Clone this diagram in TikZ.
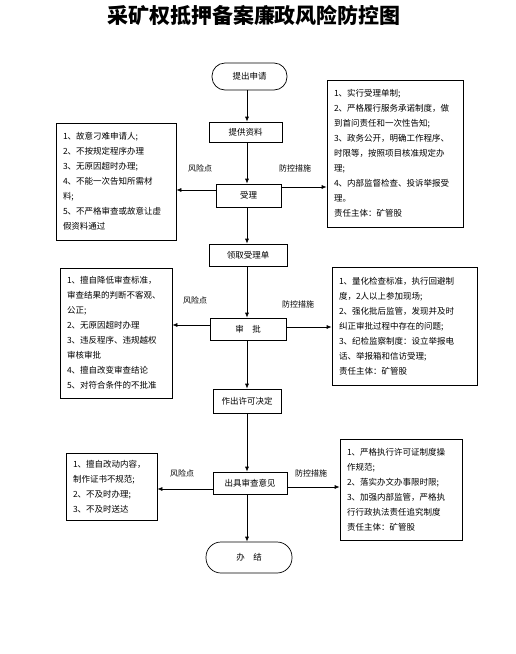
\documentclass[tikz,border=0pt]{standalone}
\usepackage{fontspec}
\setmainfont{Noto Sans CJK SC}
\usetikzlibrary{arrows.meta}
\tikzset{
  titletext/.style={font=\fontsize{21}{24}\selectfont\bfseries, inner sep=0pt},
  proc/.style={draw, line width=0.7pt, inner sep=0pt, font=\fontsize{8.5}{10}\selectfont},
  term/.style={proc, rounded corners=13pt},
  sidebox/.style={draw, line width=0.7pt, inner xsep=7pt, inner ysep=0pt, align=left,
    font=\fontsize{8.5}{15}\selectfont},
  lbl/.style={inner sep=0pt, font=\fontsize{8}{10}\selectfont},
  arr/.style={line width=0.7pt, -{Latex[length=5pt,width=4pt]}},
}
\begin{document}
\begin{tikzpicture}[x=1pt,y=-1pt]
\useasboundingbox (0,0) rectangle (516,654);
\node[titletext] (title) at (254,15) {采矿权抵押备案廉政风险防控图};

\coordinate (col) at (247,0);
\node[term, minimum width=75pt, minimum height=27pt] (n1) at (249.5,76.5) {提出申请};
\node[proc, minimum width=73pt, minimum height=20pt] (n2) at (245.5,132) {提供资料};
\node[proc, minimum width=65pt, minimum height=23pt] (n3) at (248.5,195.5) {受理};
\node[proc, minimum width=78pt, minimum height=22pt] (n4) at (248,255) {领取受理单};
\node[proc, minimum width=76pt, minimum height=22pt] (n5) at (248,329) {审　批};
\node[proc, minimum width=68pt, minimum height=24pt] (n6) at (247,401) {作出许可决定};
\node[proc, minimum width=74pt, minimum height=22pt] (n7) at (250,483) {出具审查意见};
\node[term, rounded corners=15pt, minimum width=86pt, minimum height=31pt] (n8) at (249,557.5) {办　结};

\draw[arr] (n1.south -| col) -- (n2.north -| col);
\draw[arr] (n2.south -| col) -- (n3.north -| col);
\draw[arr] (n3.south -| col) -- (n4.north -| col);
\draw[arr] (n4.south -| col) -- (n5.north -| col);
\draw[arr] (n5.south -| col) -- (n6.north -| col);
\draw[arr] (n6.south -| col) -- (n7.north -| col);
\draw[arr] (n7.south -| col) -- (n8.north -| col);

\node[sidebox, text width=106pt, minimum height=117pt] (l1) at (116,181.5) {
1、故意刁难申请人;\\
2、不按规定程序办理\\
3、无原因超时办理;\\
4、不能一次告知所需材\\
料;\\
5、不严格审查或故意让虚\\
假资料通过};

\node[sidebox, text width=122pt, minimum height=147pt] (r1) at (395,153.5) {
1、实行受理单制;\\
2、严格履行服务承诺制度，做\\
到首问责任和一次性告知;\\
3、政务公开，明确工作程序、\\
时限等，按照项目核准规定办\\
理;\\
4、内部监督检查、投诉举报受\\
理。\\
责任主体：矿管股};

\node[sidebox, text width=98pt, minimum height=130pt] (l2) at (116,333) {
1、擅自降低审查标准，\\
审查结果的判断不客观、\\
公正;\\
2、无原因超时办理\\
3、违反程序、违规越权\\
审核审批\\
4、擅自改变审查结论\\
5、对符合条件的不批准};

\node[sidebox, text width=131pt, minimum height=118pt] (r2) at (404.5,326) {
1、量化检查标准，执行回避制\\
度，2人以上参加现场;\\
2、强化批后监管，发现并及时\\
纠正审批过程中存在的问题;\\
3、纪检监察制度：设立举报电\\
话、举报箱和信访受理;\\
责任主体：矿管股};

\node[sidebox, text width=77pt, minimum height=67pt] (l3) at (111.5,486.5) {
1、擅自改动内容，\\
制作证书不规范;\\
2、不及时办理;\\
3、不及时送达};

\node[sidebox, text width=108pt, minimum height=101pt] (r3) at (401,489.5) {
1、严格执行许可证制度操\\
作规范;\\
2、落实办文办事限时限;\\
3、加强内部监管，严格执\\
行行政执法责任追究制度\\
责任主体：矿管股};

\draw[arr] ([yshift=5.5pt]n3.west) -- ([yshift=5.5pt]n3.west -| l1.east);
\draw[arr] ([yshift=8.5pt]n3.east) -- ([yshift=8.5pt]n3.east -| r1.west);
\draw[arr] ([yshift=4pt]n5.west) -- ([yshift=4pt]n5.west -| l2.east);
\draw[arr] ([yshift=2pt]n5.east) -- ([yshift=2pt]n5.east -| r2.west);
\draw[arr] ([yshift=-6pt]n7.west) -- ([yshift=-6pt]n7.west -| l3.east);
\draw[arr] ([yshift=-4pt]n7.east) -- ([yshift=-4pt]n7.east -| r3.west);

\node[lbl] (k1) at (200,168) {风险点};
\node[lbl] (c1) at (295,168) {防控措施};
\node[lbl] (k2) at (195,300) {风险点};
\node[lbl] (c2) at (298,304) {防控措施};
\node[lbl] (k3) at (182,473) {风险点};
\node[lbl] (c3) at (311,473) {防控措施};
\end{tikzpicture}
\end{document}
